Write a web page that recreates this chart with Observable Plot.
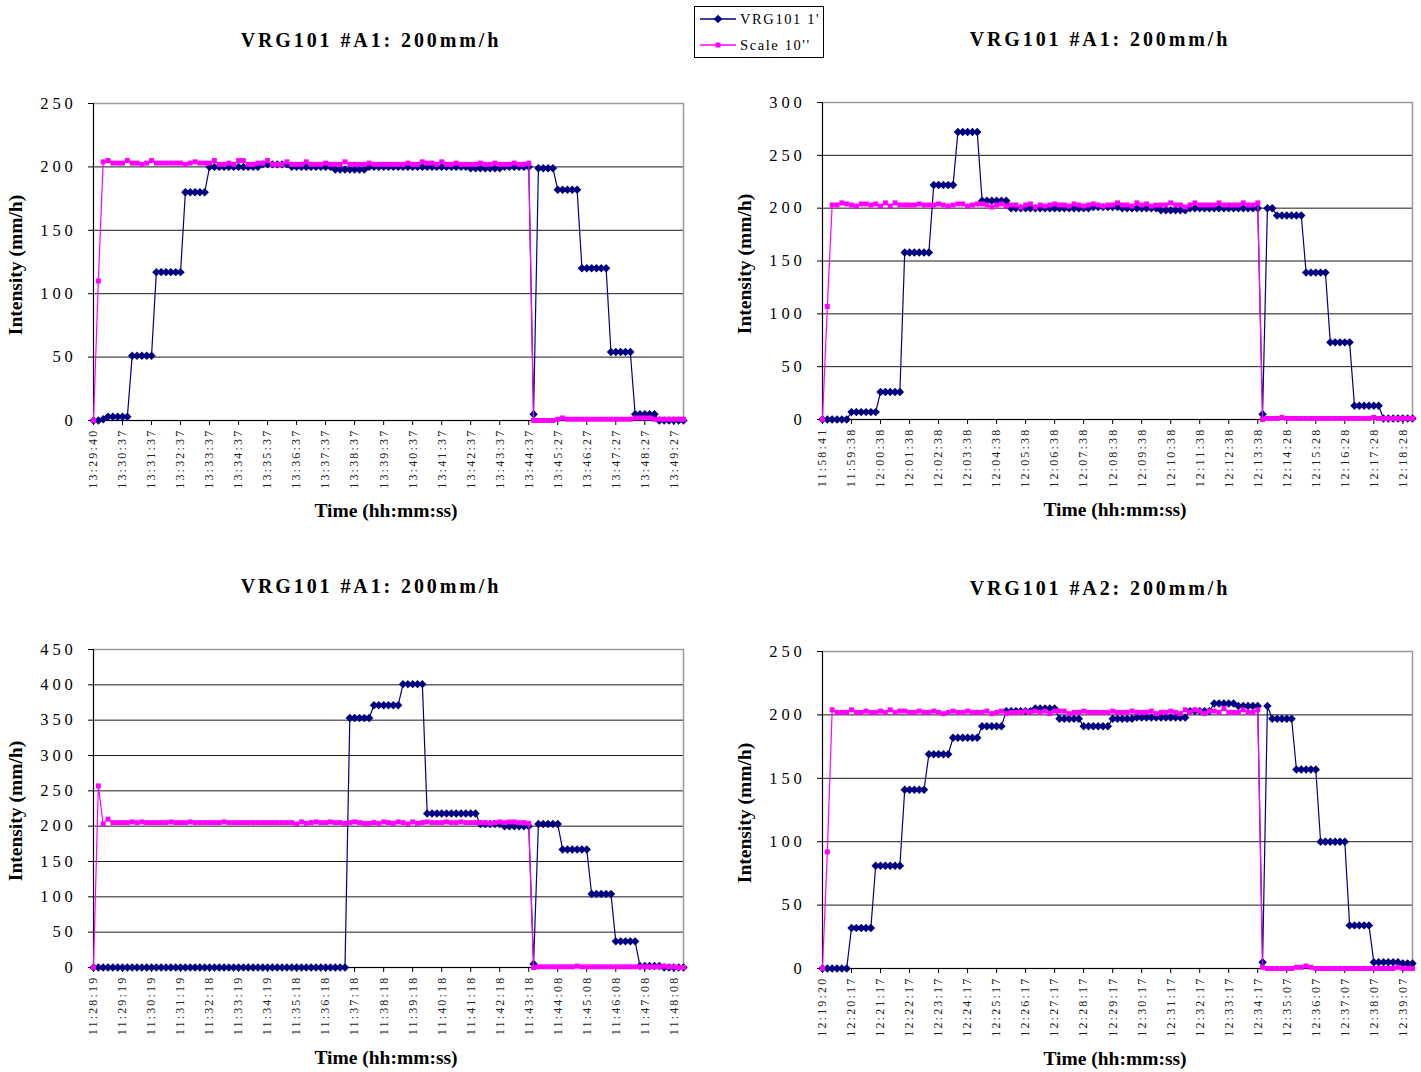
<!DOCTYPE html>
<html><head><meta charset="utf-8">
<script src="https://cdn.jsdelivr.net/npm/d3@7"></script>
<script src="https://cdn.jsdelivr.net/npm/@observablehq/plot@0.6"></script>
<style>
html,body{margin:0;padding:0;background:#fff;overflow:hidden;}
#root{position:relative;width:1421px;height:1072px;font-family:"Liberation Serif",serif;color:#000;}
.title{position:absolute;font-weight:bold;font-size:20px;letter-spacing:2.9px;transform:translate(-50%,-50%);white-space:nowrap;}
.xlab{position:absolute;font-weight:bold;font-size:19.5px;transform:translate(-50%,-50%);white-space:nowrap;}
.ylab{position:absolute;font-weight:bold;font-size:19.5px;transform:translate(-50%,-50%) rotate(-90deg);white-space:nowrap;}
.panel{position:absolute;}
.panel g[aria-label="y-axis tick label"] text{letter-spacing:3.8px;}
.panel g[aria-label="x-axis tick label"] text{letter-spacing:2.2px;}
#legend{position:absolute;left:694px;top:6px;width:128px;height:50px;border:1px solid #000;background:#fff;font-size:14.5px;letter-spacing:1.6px;}
#legend .row{position:absolute;left:5px;height:20px;display:flex;align-items:center;}
#legend svg{margin-right:4px;}
</style></head>
<body><div id="root"></div>
<script>
// ---------- data ----------
const seriesNames = ["VRG101 1'", "Scale 10''"];
const panelTitles = ["VRG101 #A1: 200mm/h", "VRG101 #A1: 200mm/h", "VRG101 #A1: 200mm/h", "VRG101 #A2: 200mm/h"];

const p1Labels = ["13:29:40","13:30:37","13:31:37","13:32:37","13:33:37","13:34:37","13:35:37","13:36:37","13:37:37","13:38:37","13:39:37","13:40:37","13:41:37","13:42:37","13:43:37","13:44:37","13:45:27","13:46:27","13:47:27","13:48:27","13:49:27"];
const p2Labels = ["11:58:41","11:59:38","12:00:38","12:01:38","12:02:38","12:03:38","12:04:38","12:05:38","12:06:38","12:07:38","12:08:38","12:09:38","12:10:38","12:11:38","12:12:38","12:13:38","12:14:28","12:15:28","12:16:28","12:17:28","12:18:28"];
const p3Labels = ["11:28:19","11:29:19","11:30:19","11:31:19","11:32:18","11:33:19","11:34:19","11:35:18","11:36:18","11:37:18","11:38:18","11:39:18","11:40:18","11:41:18","11:42:18","11:43:18","11:44:08","11:45:08","11:46:08","11:47:08","11:48:08"];
const p4Labels = ["12:19:20","12:20:17","12:21:17","12:22:17","12:23:17","12:24:17","12:25:17","12:26:17","12:27:17","12:28:17","12:29:17","12:30:17","12:31:17","12:32:17","12:33:17","12:34:17","12:35:07","12:36:07","12:37:07","12:38:07","12:39:07"];

const p1Vrg = [0,0,1,3,3,3,3,3,51,51, 51,51,51,117,117,117,117,117,117,180, 180,180,180,180,200,200,200,200,200,200, 200,200,200,200,200,202,202,202,202,202, 202,200,200,200,200,200,200,200,200,200, 198,198,198,198,198,198,198,200,200,200, 200,200,200,200,200,200,200,200,200,200, 200,200,200,200,200,200,200,200,199,199, 199,199,199,199,199,200,200,200,200,200, 200,5,199,199,199,199,182,182,182,182, 182,120,120,120,120,120,120,54,54,54, 54,54,5,5,5,5,5,0,0,0, 0,0,0];
const p1Scale = [0,110,204,205,203,203,203,205,203,203, 202,203,205,203,203,203,203,203,203,202, 203,204,203,203,203,205,202,202,203,202, 205,205,202,202,203,203,205,202,202,202, 204,202,202,202,204,202,202,202,203,202, 202,202,204,202,202,202,202,203,202,202, 202,202,202,202,202,203,202,202,204,203, 203,202,204,202,202,203,202,202,202,202, 203,202,202,203,202,202,202,203,202,202, 203,0,0,0,0,0,1,2,1,1, 1,1,1,1,1,1,1,1,1,1, 1,1,2,2,2,2,1,1,1,1, 1,1,1];

const p2Vrg = [0,0,0,0,0,0,7,7,7,7, 7,7,26,26,26,26,26,158,158,158, 158,158,158,222,222,222,222,222,272,272, 272,272,272,207,207,207,207,207,207,200, 200,200,200,200,200,200,200,200,200,200, 200,200,200,200,200,200,201,201,201,201, 201,201,200,200,200,200,200,200,200,200, 198,198,198,198,198,198,200,200,200,200, 200,200,200,200,200,200,200,200,200,200, 200,5,200,200,193,193,193,193,193,193, 139,139,139,139,139,73,73,73,73,73, 13,13,13,13,13,13,1,1,1,1, 1,1,1];
const p2Scale = [0,107,203,203,205,204,203,202,204,204, 203,204,202,205,202,205,203,203,203,203, 204,203,203,203,204,203,202,203,204,204, 202,203,204,204,203,201,203,204,202,203, 203,201,203,204,201,203,202,203,204,203, 203,202,204,203,202,203,204,203,202,203, 203,205,203,203,202,205,203,204,202,203, 203,203,205,203,203,201,203,205,203,203, 203,203,205,203,203,203,203,205,203,203, 205,0,1,1,1,2,1,1,1,1, 1,1,1,1,1,1,1,1,1,1, 1,1,1,1,2,1,1,1,1,1, 1,1,1];

const p3Vrg = [0,0,0,0,0,0,0,0,0,0, 0,0,0,0,0,0,0,0,0,0, 0,0,0,0,0,0,0,0,0,0, 0,0,0,0,0,0,0,0,0,0, 0,0,0,0,0,0,0,0,0,0, 0,0,0,353,353,353,353,353,371,371, 371,371,371,371,401,401,401,401,401,218, 218,218,218,218,218,218,218,218,218,218, 203,203,203,203,203,200,200,200,200,200, 200,5,203,203,203,203,203,167,167,167, 167,167,167,104,104,104,104,104,37,37, 37,37,37,2,2,2,2,2,0,0, 0,0,0];
const p3Scale = [0,257,203,210,205,205,205,205,206,205, 206,205,205,205,205,205,206,205,205,205, 206,205,205,205,205,205,205,206,205,205, 205,205,205,205,205,205,205,205,205,205, 205,205,203,206,204,205,206,205,205,206, 205,205,204,205,206,205,204,204,205,204, 206,205,204,206,205,203,206,204,205,206, 205,205,205,206,205,205,206,205,205,205, 205,205,204,205,206,205,206,206,205,205, 204,0,1,1,1,1,1,1,1,1, 2,1,1,1,1,1,1,1,1,1, 1,1,1,1,1,1,1,1,2,1, 1,0,0];

const p4Vrg = [0,0,0,0,0,0,32,32,32,32, 32,81,81,81,81,81,81,141,141,141, 141,141,169,169,169,169,169,182,182,182, 182,182,182,191,191,191,191,191,203,203, 203,203,203,203,205,205,205,205,205,197, 197,197,197,197,191,191,191,191,191,191, 197,197,197,197,197,198,198,198,198,198, 198,198,198,198,198,198,203,203,203,203, 203,209,209,209,209,209,207,207,207,207, 207,5,207,197,197,197,197,197,157,157, 157,157,157,100,100,100,100,100,100,34, 34,34,34,34,5,5,5,5,5,5, 4,4,4];
const p4Scale = [0,92,204,202,202,202,204,202,202,203, 202,202,203,202,204,202,203,203,202,202, 203,202,202,203,202,201,202,203,202,202, 203,202,202,202,203,201,202,203,201,202, 202,202,203,202,203,202,203,201,203,203, 203,201,202,202,203,202,202,202,202,202, 203,202,202,202,203,202,202,202,203,201, 202,202,203,202,201,204,202,204,203,201, 203,203,202,205,202,202,202,204,202,202, 204,1,0,0,0,0,0,0,1,1, 2,1,0,0,0,0,0,0,0,0, 0,0,0,0,0,0,0,0,0,1, 0,0,0];

const yMax = [250, 300, 450, 250];

// ---------- drawing ----------
const NAVY = "#000080", MAG = "#ff00ff";
const root = document.getElementById("root");

const panels = [
  {vrg:p1Vrg, scale:p1Scale, labels:p1Labels, ymax:yMax[0], title:panelTitles[0], left:0,   top:90,  width:700, mr:17, fl:93,  fr:683,  ft:103, fb:420},
  {vrg:p2Vrg, scale:p2Scale, labels:p2Labels, ymax:yMax[1], title:panelTitles[1], left:729, top:89,  width:692, mr:9,  fl:822, fr:1412, ft:102, fb:419},
  {vrg:p3Vrg, scale:p3Scale, labels:p3Labels, ymax:yMax[2], title:panelTitles[2], left:0,   top:636, width:700, mr:17, fl:93,  fr:683,  ft:649, fb:967},
  {vrg:p4Vrg, scale:p4Scale, labels:p4Labels, ymax:yMax[3], title:panelTitles[3], left:729, top:638, width:692, mr:9,  fl:822, fr:1412, ft:651, fb:968}
];

panels.forEach((p, k) => {
  const n = p.vrg.length;
  const tickIdx = p.labels.map((_, j) => j * 6);
  const mt = p.ft - p.top;
  const plotH = p.fb - p.ft;
  const mb = 80;
  const chart = Plot.plot({
    width: p.width,
    height: mt + plotH + mb,
    marginLeft: p.fl - p.left,
    marginRight: p.mr,
    marginTop: mt,
    marginBottom: mb,
    style: {fontFamily: '"Liberation Serif", serif', fontSize: "16px", color: "#000", background: "#fff"},
    x: {domain: [0, n - 1]},
    y: {domain: [0, p.ymax]},
    marks: [
      Plot.gridY(d3.range(50, p.ymax + 1, 50), {stroke: "#000", strokeOpacity: 0.9, strokeWidth: 1}),
      Plot.frame({stroke: "#9a9a9a", strokeWidth: 1.5}),
      Plot.ruleX([0], {stroke: "#000", strokeWidth: 1}),
      Plot.ruleY([0], {stroke: "#000", strokeWidth: 1}),
      Plot.axisY({ticks: d3.range(0, p.ymax + 1, 50), tickSize: 5, tickPadding: 12, fontSize: 16.5, label: null, tickFormat: d => String(d)}),
      Plot.axisX({ticks: tickIdx, tickSize: 5, tickPadding: 3, tickRotate: -90, fontSize: 12, label: null,
                  tickFormat: i => p.labels[Math.round(i / 6)], fill: "#222"}),
      Plot.line(p.vrg, {x: (d, i) => i, y: d => d, stroke: NAVY, strokeWidth: 1.2}),
      Plot.dot(p.vrg, {x: (d, i) => i, y: d => d, symbol: "diamond2", r: 3.8, fill: NAVY, stroke: "none"}),
      Plot.line(p.scale, {x: (d, i) => i, y: d => d, stroke: MAG, strokeWidth: 1.2}),
      Plot.dot(p.scale, {x: (d, i) => i, y: d => d, symbol: "square", r: 2.8, fill: MAG, stroke: "none"})
    ]
  });
  const wrap = document.createElement("div");
  wrap.className = "panel";
  wrap.style.left = p.left + "px";
  wrap.style.top = p.top + "px";
  wrap.appendChild(chart);
  root.appendChild(wrap);

  const cx = (p.fl + p.fr) / 2;
  const t = document.createElement("div");
  t.className = "title"; t.textContent = p.title;
  t.style.left = (cx - 17) + "px"; t.style.top = (p.ft - 63) + "px";
  root.appendChild(t);

  const xl = document.createElement("div");
  xl.className = "xlab"; xl.textContent = "Time (hh:mm:ss)";
  xl.style.left = (cx - 2) + "px"; xl.style.top = (p.fb + 91) + "px";
  root.appendChild(xl);

  const yl = document.createElement("div");
  yl.className = "ylab"; yl.textContent = "Intensity (mm/h)";
  yl.style.left = (p.fl - 77) + "px"; yl.style.top = ((p.ft + p.fb) / 2 + 3) + "px";
  root.appendChild(yl);
});

// legend
const leg = document.createElement("div");
leg.id = "legend";
const symbols = ["diamond", "square"];
const cols = [NAVY, MAG];
seriesNames.forEach((name, j) => {
  const row = document.createElement("div");
  row.className = "row";
  row.style.top = (j === 0 ? 2 : 28) + "px";
  const ns = "http://www.w3.org/2000/svg";
  const s = document.createElementNS(ns, "svg");
  s.setAttribute("width", 36); s.setAttribute("height", 12);
  const ln = document.createElementNS(ns, "line");
  ln.setAttribute("x1", 0); ln.setAttribute("x2", 36); ln.setAttribute("y1", 6); ln.setAttribute("y2", 6);
  ln.setAttribute("stroke", cols[j]); ln.setAttribute("stroke-width", 1.5);
  s.appendChild(ln);
  const g = document.createElementNS(ns, "path");
  g.setAttribute("transform", "translate(18,6)" + (symbols[j] === "diamond" ? " rotate(45)" : ""));
  g.setAttribute("d", symbols[j] === "diamond" ? "M-3,-3H3V3H-3Z" : "M-2.5,-2.5H2.5V2.5H-2.5Z");
  g.setAttribute("fill", cols[j]);
  s.appendChild(g);
  row.appendChild(s);
  const tx = document.createElement("span");
  tx.textContent = name;
  row.appendChild(tx);
  leg.appendChild(row);
});
root.appendChild(leg);
</script>
</body></html>
